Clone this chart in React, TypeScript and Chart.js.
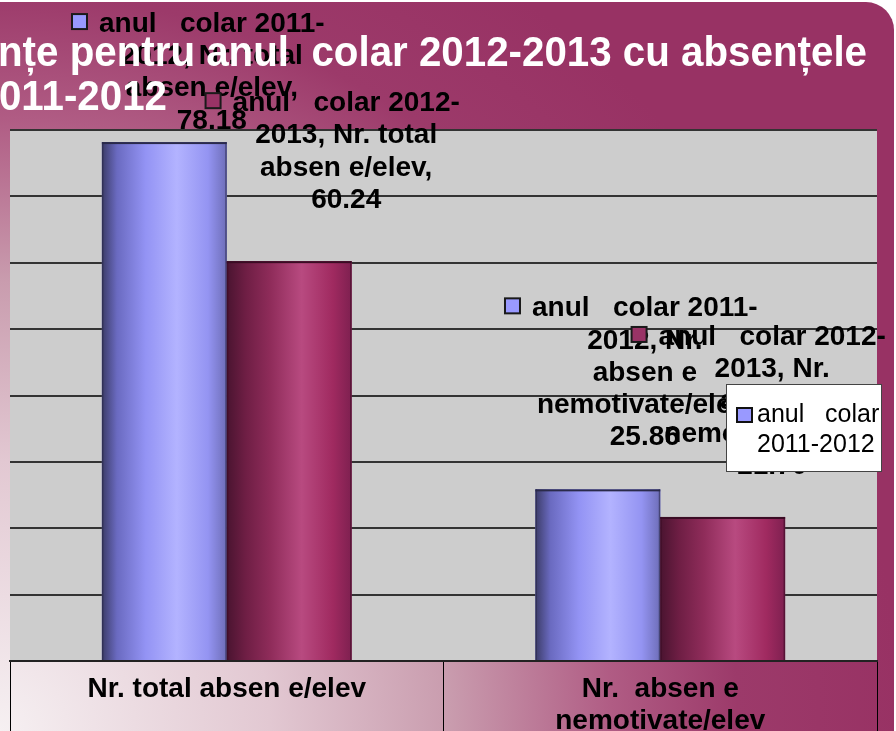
import React, { useEffect, useRef } from 'react';
import { Chart, registerables } from 'chart.js';

Chart.register(...registerables);

// ---- data ----
const categories: string[][] = [['Nr. total absen e/elev'], ['Nr.  absen e', 'nemotivate/elev']];
const categoryLabelParts: string[][] = [['Nr. total', 'absen e/elev'], ['Nr.', 'absen e', 'nemotivate/elev']];
const seriesNames = ['anul   colar 2011-2012', 'anul   colar 2012-2013'];
const seriesNameLines: string[][] = [['anul   colar 2011-', '2012'], ['anul   colar 2012-', '2013']];
const legendLines = ['anul   colar', '2011-2012'];
const values2011 = [78.18, 25.86];
const values2012 = [60.24, 21.7];
const yMin = 0;
const yMax = 80;
const yStep = 10;
const titleLines = ['nțe pentru anul  colar 2012-2013 cu absențele', '011-2012'];

const FONT = '"Liberation Sans", Arial, Helvetica, sans-serif';
const seriesColors = ['#9999ff', '#993366'];

// label placement relative to bar (dx from bar centre, first baseline from bar top)
const labelOffsets = [
  [[47.5, -110], [47, -173]],
  [[57, -150], [49.5, -172]],
];

const barStops = [
  [[0, '#3c3c68'], [0.12, '#6a6ac0'], [0.35, '#9393f4'], [0.6, '#b3b3ff'], [0.85, '#9494f2'], [1, '#6e6eb8']],
  [[0, '#4a1430'], [0.15, '#6e1e44'], [0.35, '#8f2c5a'], [0.6, '#b84a80'], [0.85, '#a02a60'], [1, '#7e2050']],
];
const barEdge = ['#2a2a4a', '#3a0c24'];

function labelLines(di: number, ci: number, value: number): string[] {
  const nl = seriesNameLines[di];
  const parts = categoryLabelParts[ci];
  const lines = [nl[0], nl[1] + ', ' + parts[0]];
  for (let k = 1; k < parts.length; k++) {
    lines.push(parts[k] + (k === parts.length - 1 ? ',' : ''));
  }
  lines.push(value.toFixed(2));
  return lines;
}

const decorPlugin = {
  id: 'decor',
  beforeDraw(chart: any) {
    const { ctx, width, height, chartArea } = chart;
    ctx.save();
    ctx.fillStyle = '#ffffff';
    ctx.fillRect(0, 0, width, height);
    const g = ctx.createRadialGradient(0, height, 0, 0, height, 900);
    g.addColorStop(0, '#f6f0f2');
    g.addColorStop(0.3, '#e2c8d2');
    g.addColorStop(0.5, '#c99cae');
    g.addColorStop(0.68, '#b05c84');
    g.addColorStop(0.82, '#9c3a6a');
    g.addColorStop(1, '#983264');
    const r = 28, left = -20, top = 2, right = 894, bottom = height + 20;
    ctx.beginPath();
    ctx.moveTo(left, top);
    ctx.lineTo(right - r, top);
    ctx.arcTo(right, top, right, top + r, r);
    ctx.lineTo(right, bottom);
    ctx.lineTo(left, bottom);
    ctx.closePath();
    ctx.fillStyle = g;
    ctx.fill();
    ctx.fillStyle = '#cdcdcd';
    ctx.fillRect(chartArea.left, chartArea.top, chartArea.right - chartArea.left, chartArea.bottom - chartArea.top);
    ctx.restore();
  },
  afterDatasetsDraw(chart: any) {
    const { ctx } = chart;
    ctx.save();
    chart.data.datasets.forEach((_ds: any, di: number) => {
      const meta = chart.getDatasetMeta(di);
      meta.data.forEach((el: any) => {
        const { x, y, base, width } = el.getProps(['x', 'y', 'base', 'width'], true);
        const l = x - width / 2;
        const t = Math.min(y, base);
        const h = Math.abs(base - y);
        const g = ctx.createLinearGradient(l, 0, l + width, 0);
        barStops[di].forEach((s: any) => g.addColorStop(s[0], s[1]));
        ctx.fillStyle = g;
        ctx.fillRect(l, t, width, h);
        ctx.fillStyle = barEdge[di];
        ctx.fillRect(l, t, width, 2);
        ctx.globalAlpha = 0.6;
        ctx.fillRect(l, t, 1.5, h);
        ctx.fillRect(l + width - 1.5, t, 1.5, h);
        ctx.globalAlpha = 1;
      });
    });
    ctx.restore();
  },
  afterDraw(chart: any) {
    const { ctx } = chart;
    ctx.save();
    // data labels
    const lineH = 32.2;
    chart.data.datasets.forEach((ds: any, di: number) => {
      const meta = chart.getDatasetMeta(di);
      meta.data.forEach((el: any, ci: number) => {
        const off = labelOffsets[di][ci];
        const cx = el.x + off[0];
        const y0 = el.y + off[1];
        const lines = labelLines(di, ci, ds.data[ci]);
        ctx.font = `bold 28px ${FONT}`;
        ctx.textAlign = 'center';
        ctx.textBaseline = 'alphabetic';
        ctx.fillStyle = '#000';
        lines.forEach((t, k) => ctx.fillText(t, cx, y0 + k * lineH));
        const w0 = ctx.measureText(lines[0]).width;
        const sx = cx - w0 / 2 - 12 - 15;
        const sy = y0 - 18;
        ctx.fillStyle = seriesColors[di];
        ctx.fillRect(sx, sy, 15, 15);
        ctx.strokeStyle = '#1a1a1a';
        ctx.lineWidth = 2;
        ctx.strokeRect(sx, sy, 15, 15);
      });
    });
    // title
    ctx.font = `bold 40px ${FONT}`;
    ctx.fillStyle = '#ffffff';
    ctx.textAlign = 'right';
    ctx.textBaseline = 'alphabetic';
    const w1 = ctx.measureText(titleLines[0]).width;
    const sxT = (867 + 2) / w1;
    ctx.save();
    ctx.translate(867, 66);
    ctx.scale(sxT, 1.08);
    ctx.fillText(titleLines[0], 0, 0);
    ctx.restore();
    ctx.save();
    ctx.translate(167, 110);
    ctx.scale(sxT, 1.08);
    ctx.fillText(titleLines[1], 0, 0);
    ctx.restore();
    // legend box
    const lx = 726, ly = 384, lw = 156, lh = 88;
    ctx.fillStyle = '#ffffff';
    ctx.fillRect(lx, ly, lw, lh);
    ctx.strokeStyle = '#444';
    ctx.lineWidth = 1;
    ctx.strokeRect(lx + 0.5, ly + 0.5, lw - 1, lh - 1);
    ctx.fillStyle = seriesColors[0];
    ctx.fillRect(737, 408, 15, 14);
    ctx.strokeStyle = '#111';
    ctx.lineWidth = 2;
    ctx.strokeRect(737, 408, 15, 14);
    ctx.font = `25px ${FONT}`;
    ctx.fillStyle = '#000';
    ctx.textAlign = 'left';
    ctx.fillText(legendLines[0], 757, 422);
    ctx.fillText(legendLines[1], 757, 452);
    ctx.restore();
  },
};

export default function App() {
  const ref = useRef<HTMLCanvasElement | null>(null);
  useEffect(() => {
    document.body.style.margin = '0';
    document.body.style.overflow = 'hidden';
    if (!ref.current) return;
    const chart = new Chart(ref.current, {
      type: 'bar',
      data: {
        labels: categories as any,
        datasets: [
          { label: seriesNames[0], data: values2011, backgroundColor: seriesColors[0], borderWidth: 0 },
          { label: seriesNames[1], data: values2012, backgroundColor: seriesColors[1], borderWidth: 0 },
        ],
      },
      options: {
        animation: false,
        responsive: false,
        maintainAspectRatio: false,
        layout: { padding: { left: 10, right: 19, top: 130, bottom: 0 } },
        datasets: { bar: { categoryPercentage: 0.576, barPercentage: 1 } } as any,
        plugins: {
          legend: { display: false },
          title: { display: false },
          tooltip: { enabled: false },
        },
        scales: {
          x: {
            offset: true,
            grid: { offset: true, drawOnChartArea: false, drawTicks: true, tickLength: 70, color: '#000', lineWidth: 1 },
            border: { display: true, color: '#222', width: 2 },
            ticks: {
              padding: -58,
              color: '#000',
              maxRotation: 0,
              autoSkip: false,
              font: { family: FONT, size: 28, weight: 'bold', lineHeight: 32 / 28 } as any,
            },
            afterFit: (s: any) => { s.height = 70; },
          },
          y: {
            min: yMin,
            max: yMax,
            ticks: { stepSize: yStep, display: false },
            grid: { color: '#333', lineWidth: 2, drawTicks: false },
            border: { display: false },
            afterFit: (s: any) => { s.width = 0; },
          },
        },
      },
      plugins: [decorPlugin],
    });
    return () => chart.destroy();
  }, []);
  return (
    <div style={{ width: 896, height: 731 }}>
      <canvas ref={ref} width={896} height={731} style={{ display: 'block', width: 896, height: 731 }} />
    </div>
  );
}
